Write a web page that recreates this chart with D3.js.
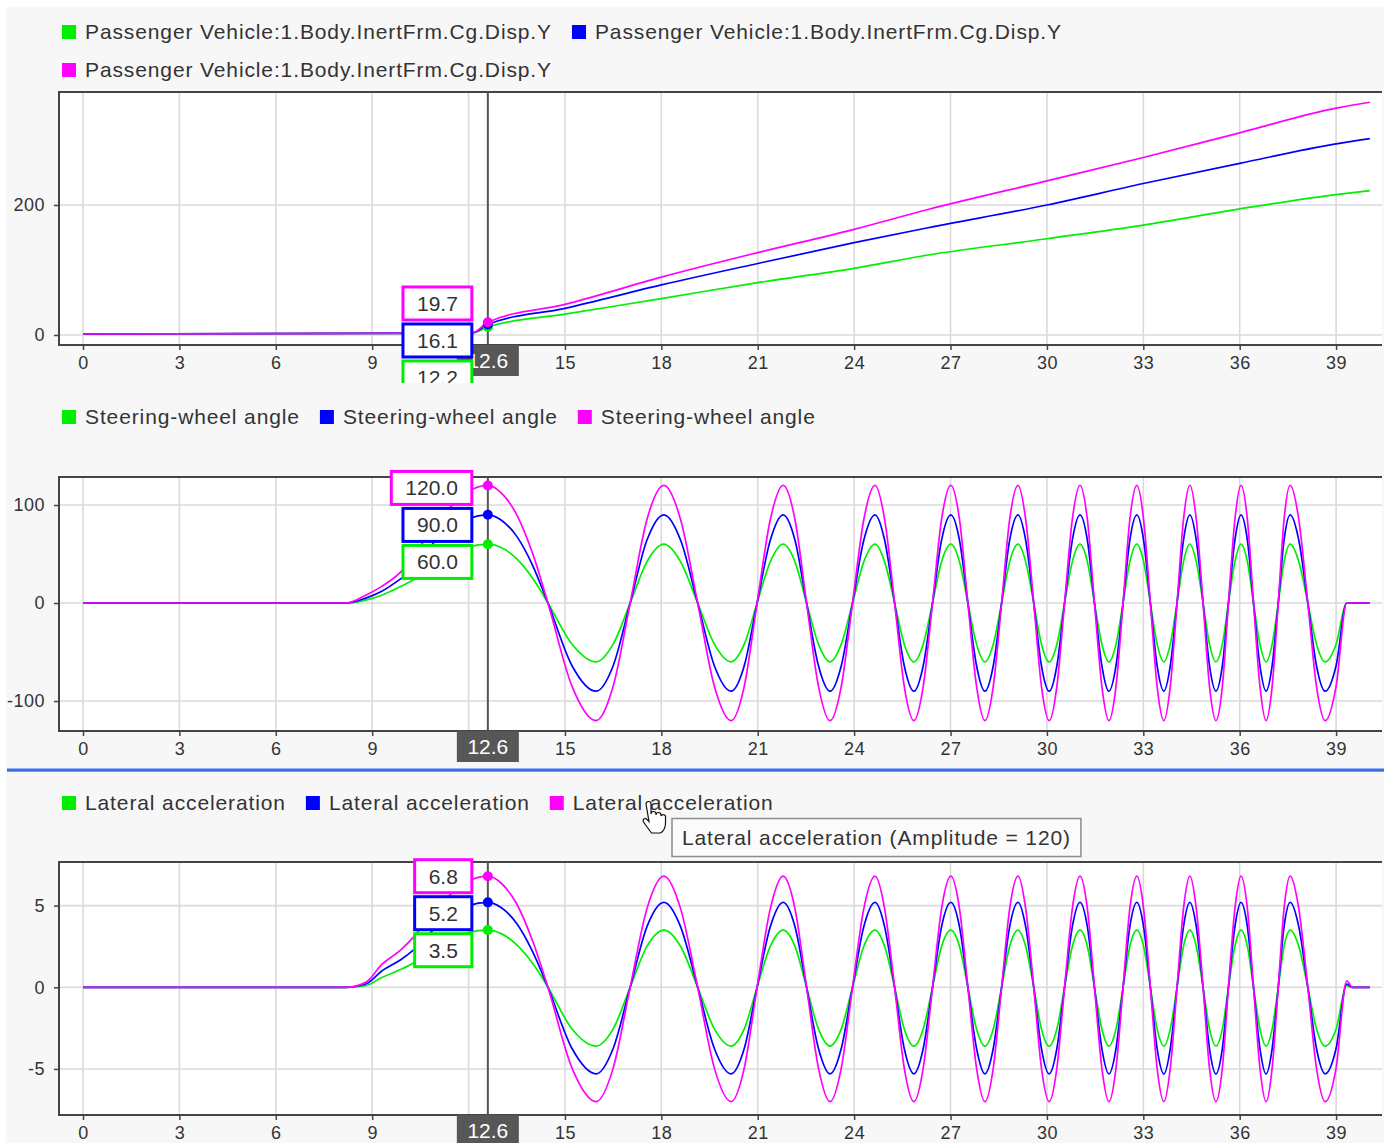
<!DOCTYPE html>
<html><head><meta charset="utf-8">
<script src="https://cdn.jsdelivr.net/npm/d3@7"></script>
<style>
body{margin:0;background:#fff}
svg{display:block}
text{font-family:"Liberation Sans",Arial,sans-serif}
</style></head>
<body><svg id="c" width="1384" height="1143"></svg>
<script>
// ---------------- DATA ----------------
const seriesColors = ["#00ee00", "#0000ff", "#ff00ff"];
const dispLabels = ["Passenger Vehicle:1.Body.InertFrm.Cg.Disp.Y", "Passenger Vehicle:1.Body.InertFrm.Cg.Disp.Y", "Passenger Vehicle:1.Body.InertFrm.Cg.Disp.Y"];
const steerLabels = ["Steering-wheel angle", "Steering-wheel angle", "Steering-wheel angle"];
const latLabels = ["Lateral acceleration", "Lateral acceleration", "Lateral acceleration"];
const xTicks = [0, 3, 6, 9, 12, 15, 18, 21, 24, 27, 30, 33, 36, 39];
const dispTicks = [0, 200];
const steerTicks = [-100, 0, 100];
const latTicks = [-5, 0, 5];
const cursorTime = 12.6;
const tooltipText = "Lateral acceleration (Amplitude = 120)";

const dispTime = [0, 12.1, 12.6, 15, 18, 21, 24, 26.3, 30, 33, 36, 39, 40.05];
const dispGreen = [1.5, 3, 12.2, 32, 56, 80.5, 102.6, 123, 148, 169, 194, 216, 222];
const dispBlue = [1.5, 3, 16.1, 41, 77, 110, 142, 165, 200, 233, 264, 294, 302];
const dispMagenta = [1.5, 3, 19.7, 47, 89, 126.7, 162.5, 193, 237, 273, 311, 349, 358];

const sigTime = [0, 8.2, 8.8, 9.3, 9.9, 10.3, 10.9, 11.5, 12.0, 12.6,
  13.0, 13.5, 14.0, 14.47, 15.22, 15.97,
  16.50, 17.03, 17.55, 18.08,  18.60, 19.13, 19.65, 20.17,
  20.58, 20.98, 21.39, 21.79,  22.16, 22.52, 22.89, 23.25,
  23.60, 23.95, 24.30, 24.65,  24.95, 25.26, 25.56, 25.86,
  26.15, 26.44, 26.72, 27.01,  27.28, 27.54, 27.81, 28.07,
  28.33, 28.59, 28.84, 29.10,  29.34, 29.59, 29.83, 30.07,
  30.31, 30.55, 30.79, 31.03,  31.26, 31.48, 31.71, 31.93,
  32.15, 32.37, 32.58, 32.80,  33.01, 33.22, 33.43, 33.64,
  33.84, 34.05, 34.25, 34.45,  34.65, 34.86, 35.06, 35.26,
  35.46, 35.65, 35.85, 36.04,  36.24, 36.43, 36.63, 36.82,
  37.01, 37.20, 37.38, 37.57,  37.84, 38.12, 38.39, 38.66,
  39.00, 39.33, 39.50, 40.05];

const steerMagenta = [0, 0, 8, 17, 32, 48, 78, 100, 114, 120,
  113, 90, 50, 0, -85, -120,
  -85, 0, 85, 120,  85, 0, -85, -120,
  -85, 0, 85, 120,  85, 0, -85, -120,
  -85, 0, 85, 120,  85, 0, -85, -120,
  -85, 0, 85, 120,  85, 0, -85, -120,
  -85, 0, 85, 120,  85, 0, -85, -120,
  -85, 0, 85, 120,  85, 0, -85, -120,
  -85, 0, 85, 120,  85, 0, -85, -120,
  -85, 0, 85, 120,  85, 0, -85, -120,
  -85, 0, 85, 120,  85, 0, -85, -120,
  -85, 0, 85, 120,  85, 0, -85, -120,
  -85, 0, 0, 0];
const steerBlue = [0, 0, 5, 12, 25, 35, 61, 76, 86, 90,
  85, 68, 38, 0, -64, -90,
  -64, 0, 64, 90,  64, 0, -64, -90,
  -64, 0, 64, 90,  64, 0, -64, -90,
  -64, 0, 64, 90,  64, 0, -64, -90,
  -64, 0, 64, 90,  64, 0, -64, -90,
  -64, 0, 64, 90,  64, 0, -64, -90,
  -64, 0, 64, 90,  64, 0, -64, -90,
  -64, 0, 64, 90,  64, 0, -64, -90,
  -64, 0, 64, 90,  64, 0, -64, -90,
  -64, 0, 64, 90,  64, 0, -64, -90,
  -64, 0, 64, 90,  64, 0, -64, -90,
  -64, 0, 0, 0];
const steerGreen = [0, 0, 3, 8, 17, 24, 39, 50, 57, 60,
  57, 45, 25, 0, -42, -60,
  -42, 0, 42, 60,  42, 0, -42, -60,
  -42, 0, 42, 60,  42, 0, -42, -60,
  -42, 0, 42, 60,  42, 0, -42, -60,
  -42, 0, 42, 60,  42, 0, -42, -60,
  -42, 0, 42, 60,  42, 0, -42, -60,
  -42, 0, 42, 60,  42, 0, -42, -60,
  -42, 0, 42, 60,  42, 0, -42, -60,
  -42, 0, 42, 60,  42, 0, -42, -60,
  -42, 0, 42, 60,  42, 0, -42, -60,
  -42, 0, 42, 60,  42, 0, -42, -60,
  -42, 0, 0, 0];

const latMagenta = [0, 0, 0.3, 1.4, 2.3, 3.1, 4.6, 5.8, 6.5, 6.8,
  6.4, 5.1, 2.8, 0, -4.95, -7.0,
  -4.95, 0, 4.8, 6.8,  4.8, 0, -4.95, -7.0,
  -4.95, 0, 4.8, 6.8,  4.8, 0, -4.95, -7.0,
  -4.95, 0, 4.8, 6.8,  4.8, 0, -4.95, -7.0,
  -4.95, 0, 4.8, 6.8,  4.8, 0, -4.95, -7.0,
  -4.95, 0, 4.8, 6.8,  4.8, 0, -4.95, -7.0,
  -4.95, 0, 4.8, 6.8,  4.8, 0, -4.95, -7.0,
  -4.95, 0, 4.8, 6.8,  4.8, 0, -4.95, -7.0,
  -4.95, 0, 4.8, 6.8,  4.8, 0, -4.95, -7.0,
  -4.95, 0, 4.8, 6.8,  4.8, 0, -4.95, -7.0,
  -4.95, 0, 4.8, 6.8,  4.8, 0, -4.95, -7.0,
  -4.95, 0.4, 0, 0];
const latBlue = [0, 0, 0.2, 1.0, 1.7, 2.3, 3.5, 4.4, 5.0, 5.2,
  4.9, 3.9, 2.15, 0, -3.75, -5.3,
  -3.75, 0, 3.7, 5.2,  3.7, 0, -3.75, -5.3,
  -3.75, 0, 3.7, 5.2,  3.7, 0, -3.75, -5.3,
  -3.75, 0, 3.7, 5.2,  3.7, 0, -3.75, -5.3,
  -3.75, 0, 3.7, 5.2,  3.7, 0, -3.75, -5.3,
  -3.75, 0, 3.7, 5.2,  3.7, 0, -3.75, -5.3,
  -3.75, 0, 3.7, 5.2,  3.7, 0, -3.75, -5.3,
  -3.75, 0, 3.7, 5.2,  3.7, 0, -3.75, -5.3,
  -3.75, 0, 3.7, 5.2,  3.7, 0, -3.75, -5.3,
  -3.75, 0, 3.7, 5.2,  3.7, 0, -3.75, -5.3,
  -3.75, 0, 3.7, 5.2,  3.7, 0, -3.75, -5.3,
  -3.75, 0.2, 0, 0];
const latGreen = [0, 0, 0.1, 0.6, 1.1, 1.5, 2.3, 2.95, 3.35, 3.5,
  3.3, 2.6, 1.45, 0, -2.55, -3.6,
  -2.55, 0, 2.5, 3.5,  2.5, 0, -2.55, -3.6,
  -2.55, 0, 2.5, 3.5,  2.5, 0, -2.55, -3.6,
  -2.55, 0, 2.5, 3.5,  2.5, 0, -2.55, -3.6,
  -2.55, 0, 2.5, 3.5,  2.5, 0, -2.55, -3.6,
  -2.55, 0, 2.5, 3.5,  2.5, 0, -2.55, -3.6,
  -2.55, 0, 2.5, 3.5,  2.5, 0, -2.55, -3.6,
  -2.55, 0, 2.5, 3.5,  2.5, 0, -2.55, -3.6,
  -2.55, 0, 2.5, 3.5,  2.5, 0, -2.55, -3.6,
  -2.55, 0, 2.5, 3.5,  2.5, 0, -2.55, -3.6,
  -2.55, 0, 2.5, 3.5,  2.5, 0, -2.55, -3.6,
  -2.55, 0.1, 0, 0];

// ---------------- LAYOUT ----------------
const W = 1384, H = 1143;
const plotL = 59, plotR = 1382;
const svg = d3.select("#c");
const defs = svg.append("defs");
svg.append("rect").attr("x", 6).attr("y", 7).attr("width", W - 6).attr("height", H - 7).attr("fill", "#f7f7f7");

const x = d3.scaleLinear().domain([-0.747, 40.46]).range([plotL, 1383]);

const panels = [
  {legendY: 32, top: 92, bottom: 345, yDomain: [-15.4, 373.8], yTicks: dispTicks, time: dispTime,
   values: [dispGreen, dispBlue, dispMagenta], labels: dispLabels, labelShift: -18.7, clip: [7, 383]},
  {legendY: 417, top: 477, bottom: 731, yDomain: [-130.6, 128.6], yTicks: steerTicks, time: sigTime,
   values: [steerGreen, steerBlue, steerMagenta], labels: steerLabels, labelShift: 2.5, clip: [383, 768]},
  {legendY: 803, top: 862, bottom: 1115, yDomain: [-7.82, 7.67], yTicks: latTicks, time: sigTime,
   values: [latGreen, latBlue, latMagenta], labels: latLabels, labelShift: 0, clip: [772, 1143]}
];

const legendFont = 21, legendSpacing = 0.88;

panels.forEach((p, pi) => {
  const y = d3.scaleLinear().domain(p.yDomain).range([p.bottom, p.top]);
  const g = svg.append("g");

  // legend
  const lg = g.append("g");
  let lx = 62, ly = p.legendY;
  p.labels.forEach((lab, i) => {
    const t = lg.append("text").attr("y", ly).attr("dy", "0.35em")
      .attr("font-size", legendFont).attr("letter-spacing", legendSpacing).attr("fill", "#333").text(lab);
    const tw = t.node().getComputedTextLength();
    if (lx + 23 + tw > W) { lx = 62; ly += 38; t.attr("y", ly); }
    t.attr("x", lx + 23);
    lg.append("rect").attr("x", lx).attr("y", ly - 7).attr("width", 14).attr("height", 14).attr("fill", seriesColors[i]);
    lx += 23 + tw + 20;
  });

  // plot background
  g.append("rect").attr("x", plotL).attr("y", p.top).attr("width", plotR - plotL).attr("height", p.bottom - p.top).attr("fill", "#fff");

  // grid
  const grid = g.append("g").attr("stroke", "#dadada").attr("stroke-width", 1.6);
  grid.selectAll(".vg").data(xTicks).join("line")
    .attr("x1", d => x(d)).attr("x2", d => x(d)).attr("y1", p.top).attr("y2", p.bottom);
  grid.selectAll(".hg").data(p.yTicks).join("line")
    .attr("x1", plotL).attr("x2", plotR).attr("y1", d => y(d)).attr("y2", d => y(d));

  // clip for lines
  const cid = "clip" + pi;
  defs.append("clipPath").attr("id", cid).append("rect")
    .attr("x", plotL).attr("y", p.top).attr("width", plotR - plotL).attr("height", p.bottom - p.top);
  const lines = g.append("g").attr("clip-path", `url(#${cid})`);
  const line = d3.line().x(d => x(d[0])).y(d => y(d[1])).curve(d3.curveMonotoneX);
  p.values.forEach((vals, i) => {
    lines.append("path").datum(d3.zip(p.time, vals)).attr("d", line)
      .attr("fill", "none").attr("stroke", seriesColors[i]).attr("stroke-width", 1.7).attr("stroke-linejoin", "round");
  });

  // box (left, top, bottom)
  g.append("path").attr("d", `M${plotR},${p.top}H${plotL}V${p.bottom}H${plotR}`)
    .attr("fill", "none").attr("stroke", "#444").attr("stroke-width", 2);

  // axes (tick label at the cursor position is covered by the cursor box, so it is left blank)
  const xa = g.append("g").attr("transform", `translate(0,${p.bottom})`)
    .call(d3.axisBottom(x).tickValues(xTicks).tickSize(5).tickPadding(6)
      .tickFormat(d => Math.abs(x(d) - x(cursorTime)) < 30 ? "" : String(d)));
  const ya = g.append("g").attr("transform", `translate(${plotL},0)`)
    .call(d3.axisLeft(y).tickValues(p.yTicks).tickSize(5).tickPadding(9).tickFormat(d => String(d)));
  [xa, ya].forEach(a => {
    a.select(".domain").remove();
    a.selectAll("line").attr("stroke", "#444").attr("stroke-width", 1.5);
    a.selectAll("text").attr("font-size", 18).attr("letter-spacing", 0.5).attr("fill", "#333")
      .attr("font-family", '"Liberation Sans", Arial, sans-serif');
  });

  // cursor
  const cx = x(cursorTime);
  g.append("line").attr("x1", cx).attr("x2", cx).attr("y1", p.top).attr("y2", p.bottom)
    .attr("stroke", "#555").attr("stroke-width", 2);
  const ci = p.time.indexOf(cursorTime);
  p.values.forEach((vals, i) => {
    g.append("circle").attr("cx", cx).attr("cy", y(vals[ci])).attr("r", 5).attr("fill", seriesColors[i]);
  });

  // cursor x label
  const xl = g.append("g");
  xl.append("rect").attr("x", cx - 31).attr("y", p.bottom).attr("width", 62).attr("height", 31).attr("fill", "#575757");
  xl.append("text").attr("x", cx).attr("y", p.bottom + 16).attr("dy", "0.35em").attr("text-anchor", "middle")
    .attr("font-size", 21).attr("fill", "#fff").text(d3.format(".1f")(cursorTime));

  // value labels (clipped to panel)
  const lcid = "lclip" + pi;
  defs.append("clipPath").attr("id", lcid).append("rect")
    .attr("x", 0).attr("y", p.clip[0]).attr("width", W).attr("height", p.clip[1] - p.clip[0]);
  const vl = g.append("g").attr("clip-path", `url(#${lcid})`);
  const order = [2, 1, 0];
  let cy = y(p.values[2][ci]) + p.labelShift;
  order.forEach((si) => {
    const txt = d3.format(".1f")(p.values[si][ci]);
    const gg = vl.append("g");
    const r = gg.append("rect");
    const t = gg.append("text").attr("y", cy).attr("dy", "0.35em").attr("font-size", 21)
      .attr("fill", "#333").attr("text-anchor", "middle").text(txt);
    const tw = t.node().getComputedTextLength();
    const bw = tw + 28;
    const right = cx - 16;
    r.attr("x", right - bw).attr("y", cy - 16.5).attr("width", bw).attr("height", 33)
      .attr("fill", "#fff").attr("stroke", seriesColors[si]).attr("stroke-width", 3);
    t.attr("x", right - bw / 2);
    cy += 37;
  });
});

// separator
svg.append("rect").attr("x", 7).attr("y", 768.5).attr("width", W - 7).attr("height", 3.2).attr("fill", "#3a6ee8");

// tooltip
const tt = svg.append("g");
const ttText = tt.append("text").attr("x", 682).attr("y", 838).attr("dy", "0.35em").attr("font-size", legendFont)
  .attr("letter-spacing", legendSpacing).attr("fill", "#333").text(tooltipText);
const ttw = ttText.node().getComputedTextLength();
tt.insert("rect", "text").attr("x", 672).attr("y", 818.5).attr("width", ttw + 20).attr("height", 38)
  .attr("fill", "#fbfbfb").attr("stroke", "#8c8c8c").attr("stroke-width", 1.5);

// hand cursor
svg.append("path")
  .attr("transform", "translate(641,801)")
  .attr("d", "M5,3 a2.5,2.5 0 0 1 5,0 v10 a2.5,2.5 0 0 1 5,0 v1 a2.5,2.5 0 0 1 5,0 v1 a2.5,2.5 0 0 1 4.5,0 v7 q0,7 -5,10 h-9 q-3,-4 -8,-11 q-1.5,-3.5 2.5,-3.5 l3,3 z")
  .attr("fill", "#fff").attr("stroke", "#111").attr("stroke-width", 1.2);
</script>
</body></html>
